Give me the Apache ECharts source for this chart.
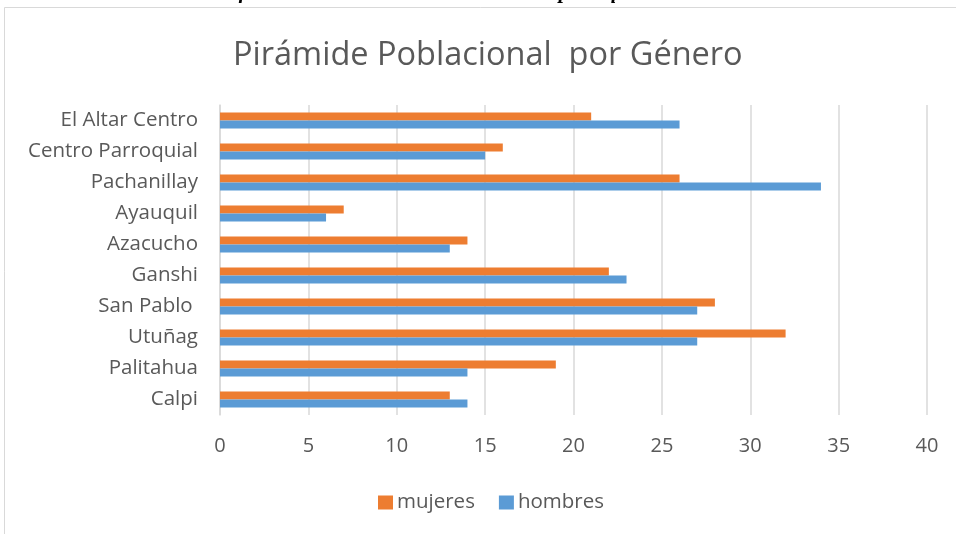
<!DOCTYPE html>
<html>
<head>
<meta charset="utf-8">
<script src="https://cdn.jsdelivr.net/npm/echarts@6/dist/echarts.min.js"></script>
<style>
html,body{margin:0;padding:0;background:#fff;}
#chart{width:956px;height:534px;}
</style>
</head>
<body>
<div id="chart"></div>
<script>
const categories = ['El Altar Centro','Centro Parroquial','Pachanillay','Ayauquil','Azacucho','Ganshi','San Pablo ','Utuñag','Palitahua','Calpi'];
const mujeres = [21,16,26,7,14,22,28,32,19,13];
const hombres = [26,15,34,6,13,23,27,27,14,14];
const xTicks = {min:0, max:40, interval:5};
const titleText = 'Pirámide Poblacional  por Género';
const captionText = 'Gráfico N° 4. Población estacional de la parroquia El Altar';

const FONT = '"Open Sans", sans-serif';
const chart = echarts.init(document.getElementById('chart'));
chart.setOption({
  animation:false,
  backgroundColor:'#fff',
  title:{
    text:titleText, left:228, top:34,
    textStyle:{fontFamily:FONT, fontSize:32.5, fontWeight:'normal', color:'#595959'}
  },
  graphic:[
    {type:'rect', shape:{x:4.5, y:7.5, width:1000, height:600}, style:{fill:'none', stroke:'#d9d9d9', lineWidth:1}},
    {type:'text', left:205, top:-18, style:{text:captionText, fontFamily:'"Liberation Serif", serif', fontStyle:'italic', fontWeight:'bold', fontSize:21, fill:'#000'}}
  ],
  legend:{
    data:['mujeres','hombres'], left:373, top:487,
    itemWidth:15, itemHeight:14, itemGap:24, icon:'rect',
    textStyle:{fontFamily:FONT, fontSize:20.5, color:'#595959', padding:[0,0,0,-1]}
  },
  grid:{left:220, right:29, top:105, bottom:119, containLabel:false},
  xAxis:{
    type:'value', min:xTicks.min, max:xTicks.max, interval:xTicks.interval,
    axisLine:{show:false}, axisTick:{show:false},
    axisLabel:{fontFamily:FONT, fontSize:20, color:'#595959', margin:21},
    splitLine:{lineStyle:{color:'#d9d9d9', width:1.5}}
  },
  yAxis:{
    type:'category', data:categories, inverse:true,
    axisLine:{lineStyle:{color:'#d9d9d9', width:1.5}}, axisTick:{show:false},
    axisLabel:{fontFamily:FONT, fontSize:20.5, color:'#595959', margin:22}
  },
  series:[
    {name:'mujeres', type:'bar', data:mujeres, barWidth:8, barGap:'0%', itemStyle:{color:'#ED7D31'}},
    {name:'hombres', type:'bar', data:hombres, barWidth:8, barGap:'0%', itemStyle:{color:'#5B9BD5'}}
  ]
});
</script>
</body>
</html>
